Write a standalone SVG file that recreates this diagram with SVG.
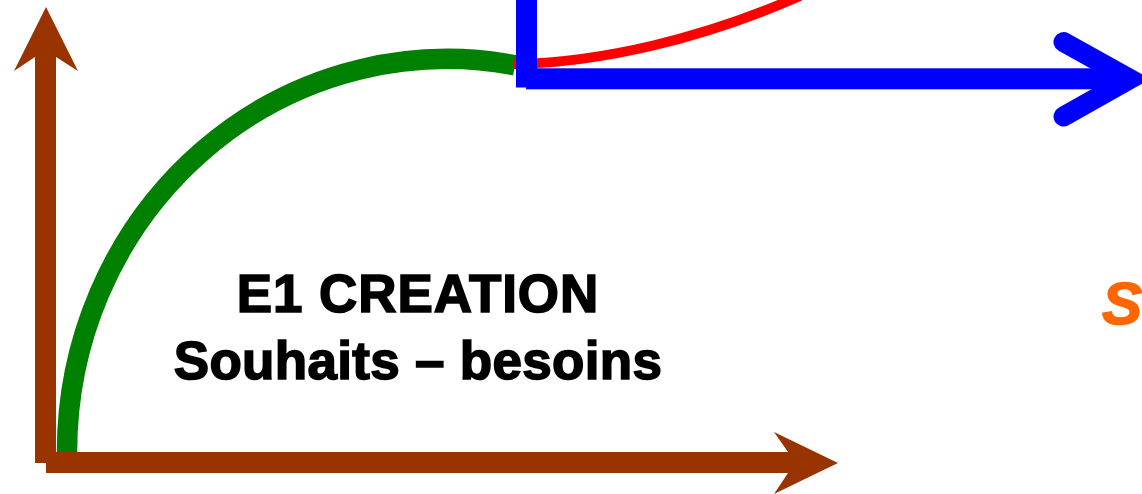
<svg xmlns="http://www.w3.org/2000/svg" width="1142" height="494" viewBox="0 0 1142 494">
  <style>
    .brown { fill: #993300; }
    .curve { fill: none; stroke-linecap: butt; }
    .lbl { font-family: "Liberation Sans", Arial, sans-serif; font-weight: bold; fill: #000000; stroke: #000000; stroke-width: 1.6px; text-anchor: middle; font-size: 53px; letter-spacing: 0.3px; }
    .blue { fill: #0000FF; }
  </style>
  <rect width="1142" height="494" fill="#FFFFFF"/>
  <g id="connectors">
    <path id="green-arc" class="curve" d="M67,452 A380,393 0 0 1 515,65.3" stroke="#008000" stroke-width="20.5"/>
    <path id="red-arc" class="curve" d="M514,64 L517,64 C600,62 700,40 800,-4" stroke="#FF0000" stroke-width="10"/>
    <polygon id="axis-y" class="brown" points="46,7 78,71 56,57 56,463 35,463 35,57 14,71"/>
    <polygon id="axis-x" class="brown" points="46,452 788,452 774,432 838,463 774,494 788,473 46,473"/>
    <g id="blue-arrow">
      <rect class="blue" x="516" y="-2" width="21" height="89.5"/>
      <rect class="blue" x="526" y="68.3" width="590" height="21"/>
      <polyline points="1063.5,42 1130,79 1063.5,116.5" fill="none" stroke="#0000FF" stroke-width="20" stroke-linecap="round" stroke-linejoin="miter" stroke-miterlimit="10"/>
    </g>
  </g>
  <g id="node-e1">
    <text class="lbl" x="418" y="312" style="letter-spacing:0.9px">E1 CREATION</text>
    <text class="lbl" x="418" y="379">Souhaits – besoins</text>
  </g>
  <g id="node-s">
    <text x="1102" y="324" font-family="Liberation Sans, Arial, sans-serif" font-weight="bold" font-style="italic" font-size="60" fill="#FF6600" stroke="#FF6600" stroke-width="1.5">S</text>
  </g>
</svg>
